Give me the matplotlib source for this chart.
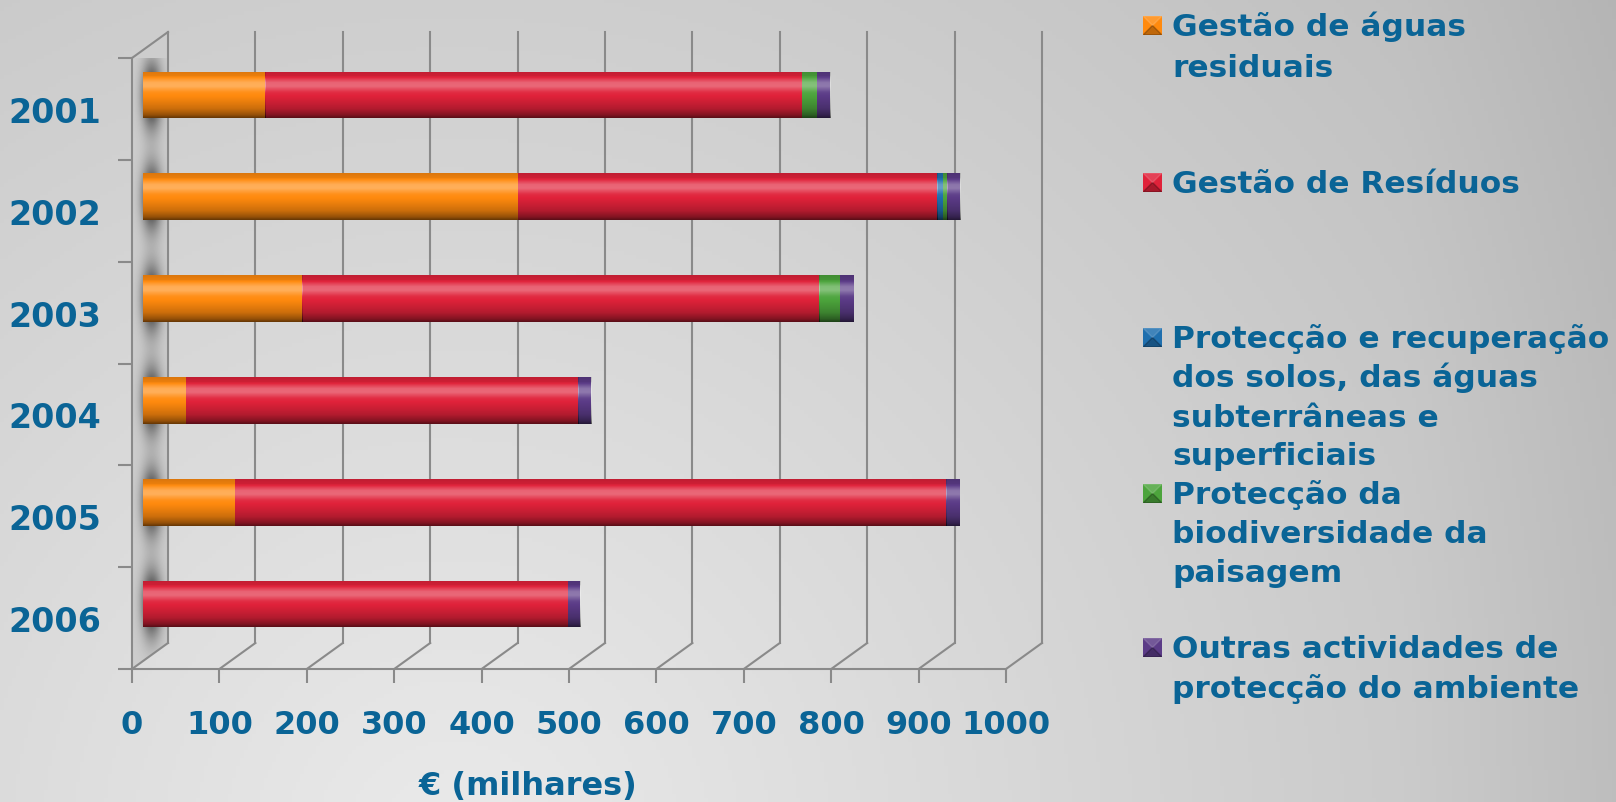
import numpy as np
import matplotlib.pyplot as plt
from matplotlib.patches import Polygon

years = ['2001', '2002', '2003', '2004', '2005', '2006']
aguas = [140, 429, 182, 49, 105, 0]
residuos = [614, 480, 592, 449, 814, 486]
solos = [0, 6, 0, 0, 0, 0]
biodiv = [17, 5, 24, 0, 0, 0]
outras = [15, 15, 16, 15, 16, 14]

series = [aguas, residuos, solos, biodiv, outras]
colors = ['#ff8a0e', '#e0223a', '#1f6fae', '#4ca43c', '#5b3b87']
legend_lines = [
    ['Gestão de águas', 'residuais'],
    ['Gestão de Resíduos'],
    ['Protecção e recuperação', 'dos solos, das águas', 'subterrâneas e', 'superficiais'],
    ['Protecção da', 'biodiversidade da', 'paisagem'],
    ['Outras actividades de', 'protecção do ambiente'],
]
xticks = list(range(0, 1001, 100))

W, H = 1616, 803
txt = '#0a6496'
grid = '#8a8a8a'

fig = plt.figure(figsize=(W / 100, H / 100), dpi=100)

# background gradient
bg = fig.add_axes([0, 0, 1, 1], zorder=-10)
yy, xx = np.mgrid[0:H:4, 0:W:4]
d = np.hypot(xx - 450, yy - 850)
v = 0.92 - 0.125 * d / 962
v -= 0.025 * np.clip((xx - 1400) / 216, 0, 1)
bg.imshow(np.dstack([v, v, v]).clip(0, 1), extent=(0, W, H, 0), aspect='auto')
bg.axis('off')

# main axes: front plane from x=132..1006 px, y=59..670 px
ax = fig.add_axes([132 / W, (H - 670) / H, 874 / W, 611 / H])
ax.set_facecolor('none')
for s in ax.spines.values():
    s.set_visible(False)

dx = 36 / 874 * 1000   # depth offset in data units
dy = 26 / 611 * 6

# left wall
wall = Polygon([(0, 0), (dx, dy), (dx, 6 + dy), (0, 6)], closed=True,
               facecolor='#cdcdcd', edgecolor='none', zorder=1, clip_on=False)
ax.add_patch(wall)
ny, nx = 300, 30
gy = np.linspace(0, 6 + dy, ny)[:, None]
gx = np.linspace(0, dx, nx)[None, :]
dark = np.zeros((ny, nx))
for i in range(len(years)):
    yc = 5.5 - i + 0.137
    dark += np.exp(-((gy - yc) / 0.32) ** 2) * np.exp(-((gx - 0.55 * dx) / (0.28 * dx)) ** 2)
shadow = np.zeros((ny, nx, 4))
shadow[..., 3] = np.clip(dark * 0.8, 0, 0.7)
im = ax.imshow(shadow, extent=(0, dx, 0, 6 + dy), origin='lower', aspect='auto',
               zorder=1.5, interpolation='bilinear')
im.set_clip_path(wall)

# back grid lines and floor diagonals
for xv in xticks:
    ax.plot([xv + dx, xv + dx], [dy, 6 + dy], color=grid, lw=1.5, zorder=2, clip_on=False)
    ax.plot([xv, xv + dx], [0, dy], color=grid, lw=1.5, zorder=2, clip_on=False)
ax.plot([0, dx], [6, 6 + dy], color=grid, lw=1.5, zorder=2, clip_on=False)
ax.plot([0, 1000], [0, 0], color=grid, lw=1.5, zorder=2, clip_on=False)
ax.plot([0, 0], [0, 6], color=grid, lw=1.5, zorder=2, clip_on=False)

# stacked bars
ypos = [5.5 - i + 0.137 for i in range(len(years))]
bh = 0.458
x0 = 12.6
t = np.linspace(0, 1, 64)
sv = np.interp(t, [0, 0.06, 0.2, 0.4, 0.55, 0.68, 0.76, 0.84, 0.9, 1.0],
               [-0.6, -0.42, -0.2, -0.05, 0.05, 0.32, 0.3, 0.1, -0.08, -0.14])
shade = np.zeros((64, 1, 4))
shade[:, 0, :3] = (sv > 0)[:, None] * 1.0
shade[:, 0, 3] = np.abs(sv)

left = np.full(len(years), x0, dtype=float)
for vals, c in zip(series, colors):
    vals = np.array(vals, dtype=float)
    bars = ax.barh(ypos, vals, left=left, height=bh, color=c, zorder=3, linewidth=0)
    for p in bars:
        if p.get_width() <= 0:
            continue
        si = ax.imshow(shade, extent=(p.get_x(), p.get_x() + p.get_width(),
                                      p.get_y(), p.get_y() + p.get_height()),
                       origin='lower', aspect='auto', zorder=3.1, interpolation='bilinear')
        si.set_clip_path(p)
    left += vals

ax.set_xlim(0, 1000)
ax.set_ylim(0, 6)

ax.set_xticks(xticks)
ax.set_xticklabels([str(x) for x in xticks], fontsize=23, fontweight='bold', color=txt)
ax.tick_params(axis='x', length=10, width=1.5, color=grid, pad=19)
ax.set_yticks([5.5 - i for i in range(len(years))])
ax.set_yticklabels(years, fontsize=24, fontweight='bold', color=txt)
ax.tick_params(axis='y', which='major', length=0, pad=22)
ax.set_yticks(range(7), minor=True)
ax.tick_params(axis='y', which='minor', length=10, width=1.5, color=grid)

fig.text(528 / W, 1 - 787 / H, '€ (milhares)', fontsize=23, fontweight='bold',
         color=txt, ha='center', va='center')

# legend
baselines = [[36, 77], [193], [348, 387, 427, 465], [504, 543, 582], [658, 698]]
for lines, bl, c in zip(legend_lines, baselines, colors):
    mk = fig.add_axes([1143 / W, 1 - bl[0] / H, 19 / W, 19 / H])
    mk.add_patch(plt.Rectangle((0, 0), 1, 1, color=c))
    mk.add_patch(Polygon([(0, 0), (0.5, 0.5), (1, 0)], color='black', alpha=0.25))
    mk.add_patch(Polygon([(0, 1), (0.5, 0.5), (1, 1)], color='white', alpha=0.15))
    mk.set_xlim(0, 1)
    mk.set_ylim(0, 1)
    mk.axis('off')
    for line, b in zip(lines, bl):
        fig.text(1172 / W, 1 - b / H, line, fontsize=22.5, fontweight='bold',
                 color=txt, ha='left', va='baseline')

fig.savefig('out.png', dpi=100)
